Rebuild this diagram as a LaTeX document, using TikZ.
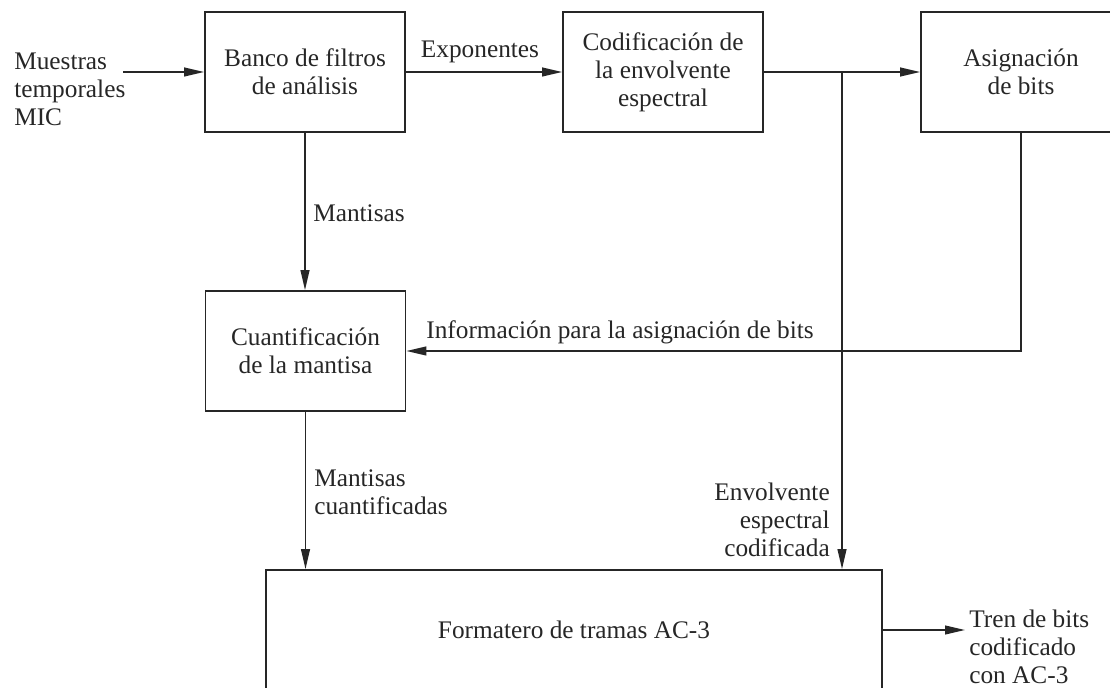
\documentclass[tikz,border=0pt]{standalone}
\usepackage{fontspec}
\setmainfont{Liberation Serif}
\usetikzlibrary{arrows.meta}
\colorlet{ink}{black!85}
\tikzset{
    blk/.style = {draw = ink, line width = 1.2pt, minimum width = 5cm, minimum height = 3cm,
                  inner sep = 0pt, align = center, text = ink},
    lbl/.style = {text = ink, inner sep = 0pt},
    arr/.style = {draw = ink, line width = 1.2pt, -{Triangle[length = 0.5cm, width = 0.22cm]}}
}
\begin{document}
\begin{tikzpicture}[x = 0.025cm, y = -0.025cm, font = \fontsize{18}{19.9}\selectfont]
        \useasboundingbox (0,0) rectangle (1110,688);
        % bloques
        \node[blk] (banco) at (305,72) {Banco de filtros\\de análisis};
        \node[blk] (codif) at (663,72) {Codificación de\\la envolvente\\espectral};
        \node[blk] (asig) at (1021,72) {Asignación\\de bits};
        \node[blk] (cuant) at (305.5,351) {Cuantificación\\de la mantisa};
        \node[blk, minimum width = 15.4cm] (format) at (574,630) {Formatero de tramas AC-3};
        % textos
        \node[lbl, anchor = west, align = left] (muestras) at (14,89.5) {Muestras\\temporales\\MIC};
        \node[lbl] (expo) at (480,52) {Exponentes};
        \node[lbl, anchor = west] (mant) at (313,213) {Mantisas};
        \node[lbl] (info) at (620,332) {Información para la asignación de bits};
        \node[lbl, anchor = west, align = left] (mantc) at (314,492) {Mantisas\\cuantificadas};
        \node[lbl, anchor = east, align = right] (envol) at (830,520) {Envolvente\\espectral\\codificada};
        \node[lbl, anchor = west, align = left] (tren) at (969,647) {Tren de bits\\codificado\\con AC-3};
        \coordinate (in) at (123,72);
        \coordinate (split) at (842,72);
        \coordinate (out) at (965,630);
        % conexiones
        \draw[arr] (in) -- (banco);
        \draw[arr] (banco) -- (codif);
        \draw[arr] (codif) -- (asig);
        \draw[arr] (split) -- (split |- format.north);
        \draw[arr] (banco) -- (banco |- cuant.north);
        \draw[arr] (asig.south) |- (cuant.east);
        \draw[arr] (cuant.south) -- (cuant.south |- format.north);
        \draw[arr] (format) -- (out);
    \end{tikzpicture}
\end{document}
